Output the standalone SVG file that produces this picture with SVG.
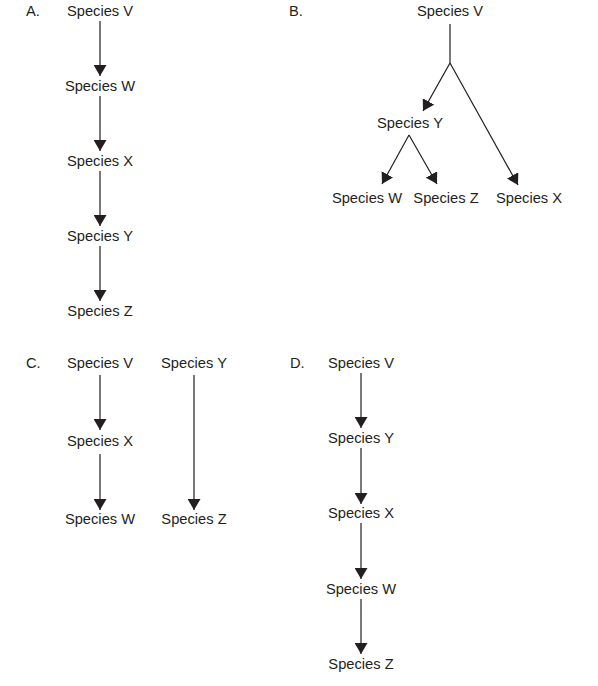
<svg xmlns="http://www.w3.org/2000/svg" width="598" height="686" viewBox="0 0 598 686">
<defs>
<marker id="ah" viewBox="0 0 11 13" markerWidth="11" markerHeight="13" refX="11" refY="6.5" orient="auto" markerUnits="userSpaceOnUse">
<path d="M0,0 L11,6.5 L0,13 z" fill="#231f20"/>
</marker>
<style>
text{font-family:"Liberation Sans",Arial,sans-serif;font-size:14.7px;fill:#231f20;text-anchor:middle}
.lbl{text-anchor:start}
.c line,.c polyline{stroke:#231f20;stroke-width:1.2;fill:none}
.a{marker-end:url(#ah)}
</style>
</defs>
<rect width="598" height="686" fill="#fff"/>
<text class="lbl" x="26" y="16">A.</text>
<text class="lbl" x="289" y="16">B.</text>
<text class="lbl" x="26" y="368">C.</text>
<text class="lbl" x="290" y="368">D.</text>
<g class="c" id="connectors">
<line class="a" x1="100" y1="21" x2="100" y2="76"/>
<line class="a" x1="100" y1="96" x2="100" y2="151"/>
<line class="a" x1="100" y1="171" x2="100" y2="226"/>
<line class="a" x1="100" y1="246" x2="100" y2="301"/>
<line x1="450" y1="24" x2="450" y2="63"/>
<line class="a" x1="450" y1="63" x2="423" y2="111"/>
<line class="a" x1="450" y1="63" x2="518" y2="185"/>
<line class="a" x1="409" y1="135" x2="382" y2="184"/>
<line class="a" x1="409" y1="135" x2="437" y2="184"/>
<line class="a" x1="100" y1="375" x2="100" y2="430"/>
<line class="a" x1="100" y1="454" x2="100" y2="510"/>
<line class="a" x1="194" y1="375" x2="194" y2="510"/>
<line class="a" x1="361" y1="373" x2="361" y2="428"/>
<line class="a" x1="361" y1="448" x2="361" y2="504"/>
<line class="a" x1="361" y1="523" x2="361" y2="579"/>
<line class="a" x1="361" y1="599" x2="361" y2="654"/>
</g>
<g id="A-V"><text x="100" y="16">Species V</text></g>
<g id="A-W"><text x="100" y="91">Species W</text></g>
<g id="A-X"><text x="100" y="166">Species X</text></g>
<g id="A-Y"><text x="100" y="241">Species Y</text></g>
<g id="A-Z"><text x="100" y="316">Species Z</text></g>
<g id="B-V"><text x="450" y="16">Species V</text></g>
<g id="B-Y"><text x="410" y="128">Species Y</text></g>
<g id="B-W"><text x="367" y="203">Species W</text></g>
<g id="B-Z"><text x="446" y="203">Species Z</text></g>
<g id="B-X"><text x="529" y="203">Species X</text></g>
<g id="C-V"><text x="100" y="368">Species V</text></g>
<g id="C-Y"><text x="194" y="368">Species Y</text></g>
<g id="C-X"><text x="100" y="446">Species X</text></g>
<g id="C-W"><text x="100" y="524">Species W</text></g>
<g id="C-Z"><text x="194" y="524">Species Z</text></g>
<g id="D-V"><text x="361" y="368">Species V</text></g>
<g id="D-Y"><text x="361" y="443">Species Y</text></g>
<g id="D-X"><text x="361" y="518">Species X</text></g>
<g id="D-W"><text x="361" y="594">Species W</text></g>
<g id="D-Z"><text x="361" y="669">Species Z</text></g>
</svg>
